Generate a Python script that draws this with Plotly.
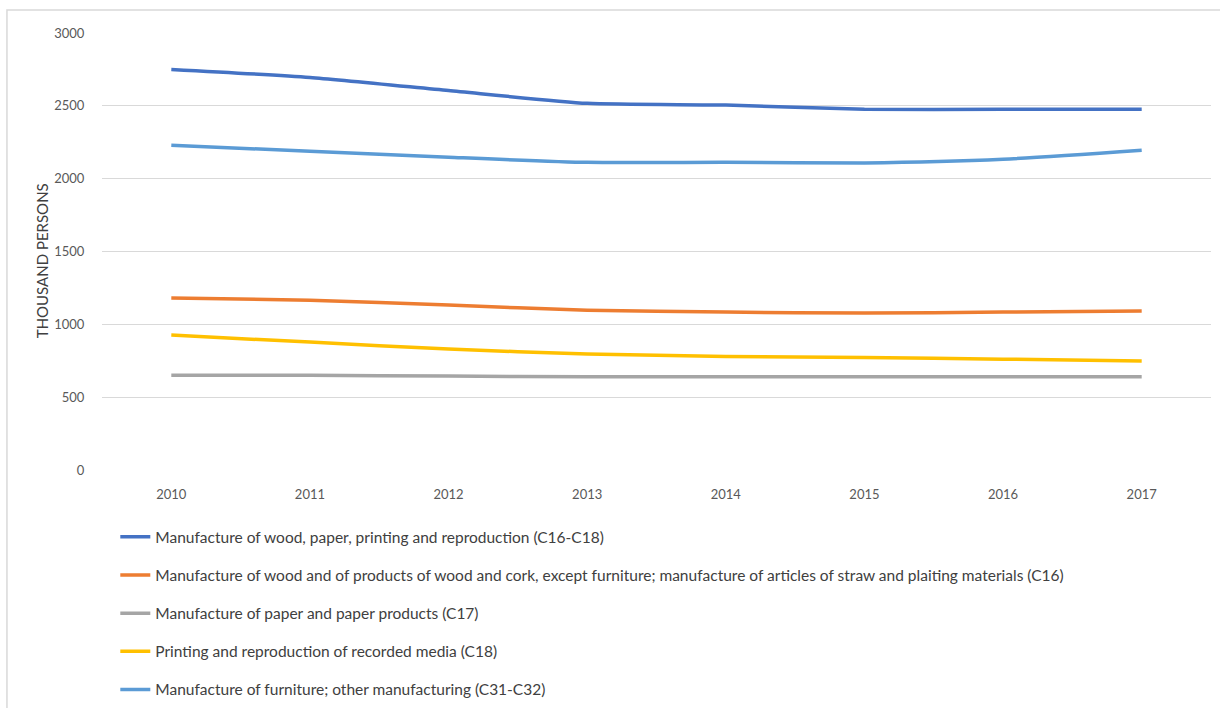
import plotly.graph_objects as go

years = ["2010", "2011", "2012", "2013", "2014", "2015", "2016", "2017"]

wood_paper_printing = [2750, 2695, 2605, 2517, 2505, 2476, 2476, 2476]
wood_cork = [1180, 1166, 1132, 1097, 1084, 1077, 1084, 1091]
paper_products = [650, 650, 645, 640, 640, 640, 640, 640]
printing_media = [926, 878, 830, 796, 780, 772, 761, 748]
furniture_other = [2229, 2188, 2147, 2112, 2112, 2108, 2133, 2195]

series_names = [
    "Manufacture of wood, paper, printing and reproduction (C16-C18)",
    "Manufacture of wood and of products of wood and cork, except furniture; "
    "manufacture of articles of straw and plaiting materials (C16)",
    "Manufacture of paper and paper products (C17)",
    "Printing and reproduction of recorded media (C18)",
    "Manufacture of furniture; other manufacturing (C31-C32)",
]
series_values = [wood_paper_printing, wood_cork, paper_products, printing_media, furniture_other]
series_colors = ["#4472C4", "#ED7D31", "#A5A5A5", "#FFC000", "#5B9BD5"]

fig = go.Figure()
for i, (name, vals, col) in enumerate(zip(series_names, series_values, series_colors)):
    fig.add_trace(go.Scatter(
        x=years, y=vals, name=name, mode="lines",
        line=dict(color=col, width=3.5, shape="spline", smoothing=0.6),
        legendgroup=f"g{i}",
    ))

font_family = "Lato, 'Open Sans', sans-serif"

fig.update_layout(
    width=1220, height=708,
    margin=dict(l=102, r=9, t=33, b=238, autoexpand=False),
    paper_bgcolor="white", plot_bgcolor="white",
    font=dict(family=font_family, color="#595959", size=13),
    showlegend=True,
    legend=dict(
        orientation="v", x=0.012, y=-0.115, xanchor="left", yanchor="top",
        font=dict(size=15.5, color="#404040", family=font_family),
        tracegroupgap=15, bgcolor="rgba(0,0,0,0)",
    ),
    xaxis=dict(
        type="category", range=[-0.5, 7.5],
        showgrid=False, showline=False, zeroline=False,
        ticks="outside", ticklen=12, tickcolor="rgba(0,0,0,0)",
        tickfont=dict(size=13, color="#595959"),
    ),
    yaxis=dict(
        range=[0, 3000], dtick=500,
        showgrid=True, gridcolor="#D9D9D9", gridwidth=1,
        zeroline=False, showline=False,
        ticks="outside", ticklen=14, tickcolor="rgba(0,0,0,0)",
        tickfont=dict(size=13, color="#595959"),
    ),
)

# vertical axis title
fig.add_annotation(
    text="THOUSAND PERSONS", textangle=-90,
    xref="paper", yref="paper", x=-0.054, y=0.478,
    xanchor="center", yanchor="middle", showarrow=False,
    font=dict(size=15, color="#404040", family=font_family),
)

# light frame around the chart area
fig.add_shape(type="rect", xref="paper", yref="paper",
              x0=-0.0857, x1=1.05, y0=-0.6, y1=1.0526,
              line=dict(color="#D9D9D9", width=1.5), fillcolor="rgba(0,0,0,0)",
              layer="below")

fig.write_html("out.html")
